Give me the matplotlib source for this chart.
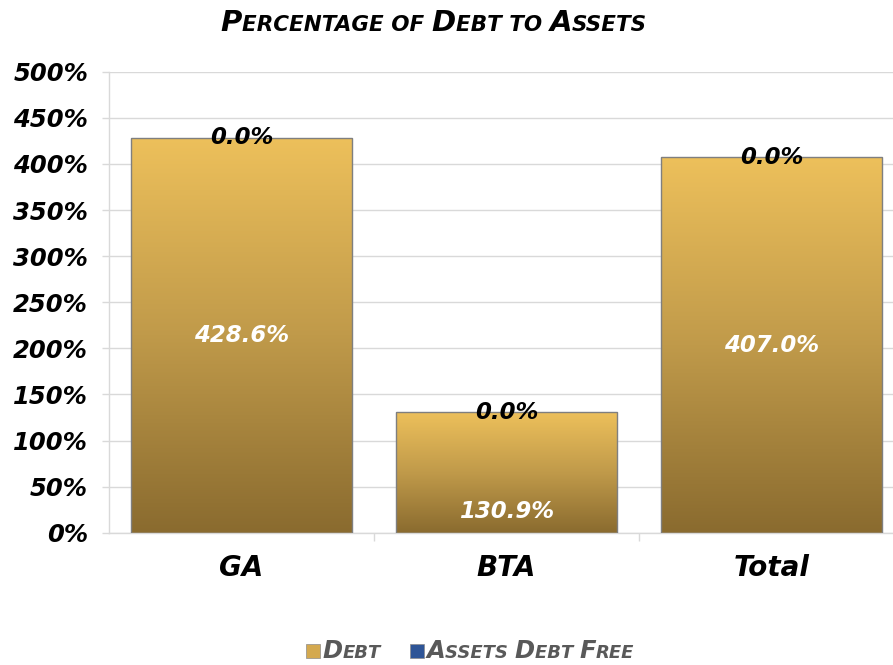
import matplotlib
matplotlib.use('Agg')
import matplotlib.pyplot as plt
import numpy as np
from matplotlib.colors import LinearSegmentedColormap
from matplotlib.offsetbox import TextArea, HPacker, AnchoredOffsetbox, DrawingArea
from matplotlib.patches import Rectangle

# ---------------- data ----------------
categories = ['GA', 'BTA', 'Total']
debt = [428.6, 130.9, 407.0]
assets_debt_free = [0.0, 0.0, 0.0]
debt_label_pos = [214.3, 22.5, 203.5]
y_ticks = [0, 50, 100, 150, 200, 250, 300, 350, 400, 450, 500]
y_tick_labels = [f'{v}%' for v in y_ticks]
title = 'Percentage of Debt to Assets'
series_names = ['Debt', 'Assets Debt Free']

# ---------------- style ----------------
FONT = dict(family='DejaVu Sans', weight='bold', style='italic')
gold_cmap = LinearSegmentedColormap.from_list('gold', ['#8A6B2F', '#C09A4A', '#EDC05B'])
GRID = '#d9d9d9'

fig = plt.figure(figsize=(8.93, 6.65), dpi=100)
W, H = 893, 665
ax = fig.add_axes([109 / W, (H - 532.7) / H, 795 / W, (532.7 - 71.7) / H])

x = np.arange(len(categories))
bw = 0.837
grad = np.linspace(0, 1, 256).reshape(-1, 1)

bars = ax.bar(x, debt, width=bw, facecolor='none', edgecolor='#7f7f7f', linewidth=1, zorder=3)
for rect in bars:
    x0 = rect.get_x()
    h = rect.get_height()
    im = ax.imshow(grad, extent=[x0, x0 + rect.get_width(), 0, h], origin='lower',
                   aspect='auto', cmap=gold_cmap, zorder=2)
    im.set_clip_path(rect)
ax.bar(x, assets_debt_free, bottom=debt, width=bw, color='#2E5597', zorder=3)

# data labels
for i in range(len(categories)):
    ax.text(x[i], debt_label_pos[i], f'{debt[i]:.1f}%', ha='center', va='center',
            color='white', fontsize=16.5, zorder=5, **FONT)
    ax.text(x[i], debt[i] + assets_debt_free[i], f'{assets_debt_free[i]:.1f}%',
            ha='center', va='center', color='black', fontsize=16.5, zorder=5, **FONT)

ax.set_xlim(-0.5, len(categories) - 0.5)
ax.set_ylim(0, 500)
ax.set_yticks(y_ticks)
ax.set_yticklabels(y_tick_labels, fontsize=17.5, **FONT)
ax.set_xticks(x)
ax.set_xticklabels(categories, fontsize=20, **FONT)
ax.set_xticks(x[:-1] + 0.5, minor=True)
ax.tick_params(axis='x', which='major', length=0, pad=15)
ax.tick_params(axis='x', which='minor', length=6, color=GRID, width=1)
ax.tick_params(axis='y', length=5, color=GRID, width=1, pad=10)
ax.yaxis.grid(True, color=GRID, linewidth=1)
ax.set_axisbelow(True)
for s in ['top', 'right']:
    ax.spines[s].set_visible(False)
for s in ['left', 'bottom']:
    ax.spines[s].set_color(GRID)
    ax.spines[s].set_linewidth(1)


def small_caps(text, big, small, color):
    parts = []
    cur, cur_big = '', None
    for ch in text:
        is_big = ch.isupper()
        if ch == ' ':
            is_big = False
        if cur_big is None or is_big == cur_big:
            cur += ch
            cur_big = is_big
        else:
            parts.append((cur, cur_big))
            cur, cur_big = ch, is_big
    if cur:
        parts.append((cur, cur_big))
    areas = [TextArea(p.upper(), textprops=dict(fontsize=big if b else small, color=color, **FONT))
             for p, b in parts]
    return areas


title_box = HPacker(children=small_caps(title, 21, 15.5, 'black'), align='baseline', pad=0, sep=0)
ab = AnchoredOffsetbox(loc='center', child=title_box, frameon=False, pad=0, borderpad=0,
                       bbox_to_anchor=(434 / W, 1 - 23 / H), bbox_transform=fig.transFigure)
fig.add_artist(ab)

# legend
leg_children = []
swatch_colors = ['#D4A94F', '#2E5597']
for name, col in zip(series_names, swatch_colors):
    da = DrawingArea(10, 10, 0, 0)
    da.add_artist(Rectangle((0, 0), 10, 10, facecolor=col, edgecolor='#8c8c8c', linewidth=0.5))
    txt = HPacker(children=small_caps(name, 17.5, 13, '#595959'), align='baseline', pad=0, sep=0)
    leg_children.append(HPacker(children=[da, txt], align='baseline', pad=0, sep=2))
leg_box = HPacker(children=leg_children, align='baseline', pad=0, sep=21)
lb = AnchoredOffsetbox(loc='center', child=leg_box, frameon=False, pad=0, borderpad=0,
                       bbox_to_anchor=(470 / W, 1 - 651 / H), bbox_transform=fig.transFigure)
fig.add_artist(lb)

fig.savefig('out.png', dpi=100)
